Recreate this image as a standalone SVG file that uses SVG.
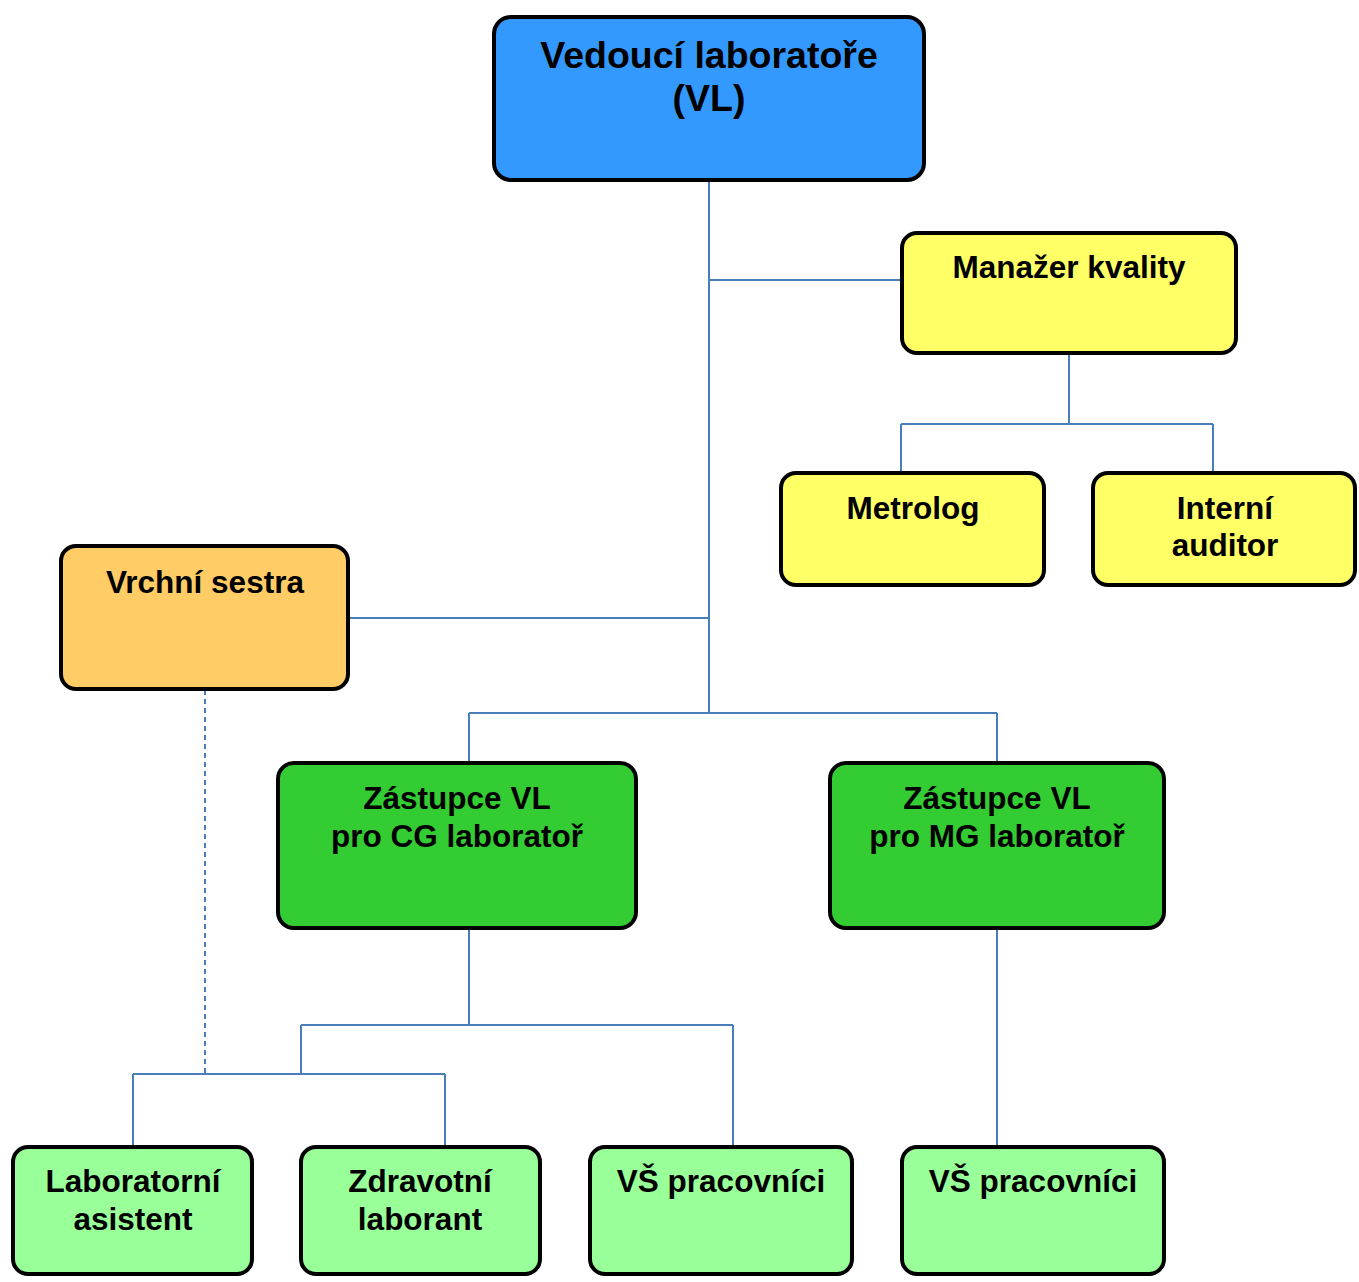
<svg xmlns="http://www.w3.org/2000/svg" width="1359" height="1282" viewBox="0 0 1359 1282">
<style>
.box{stroke:#000;stroke-width:4}
.t{font-family:"Liberation Sans",Arial,sans-serif;font-weight:bold;font-size:31.5px;text-anchor:middle;fill:#000}
.big{font-size:37.5px}
.c{fill:none;stroke:#4A7EBB;stroke-width:2}
.d{stroke-dasharray:5,4}
</style>
<rect width="1359" height="1282" fill="#fff"/>
<g id="connectors">
<path class="c" d="M709,181V713M709,280H901M1069,354V424M901,424H1213M901,424V472M1213,424V472M349,618H709M469,713H997M469,713V762M997,713V762M469,929V1025M301,1025H733M301,1025V1074M733,1025V1146M133,1074H445M133,1074V1146M445,1074V1146M997,929V1146"/>
<path class="c d" d="M205,690V1074"/>
</g>
<g id="vl"><rect class="box" x="494" y="17" width="430" height="163" rx="17" fill="#3399FF"/><text class="t big" x="709" y="68">Vedoucí laboratoře</text><text class="t big" x="709" y="111">(VL)</text></g>
<g id="manazer"><rect class="box" x="902" y="233" width="334" height="120" rx="15" fill="#FFFF66"/><text class="t" x="1069" y="278">Manažer kvality</text></g>
<g id="metrolog"><rect class="box" x="781" y="473" width="263" height="112" rx="15" fill="#FFFF66"/><text class="t" x="913" y="519">Metrolog</text></g>
<g id="auditor"><rect class="box" x="1093" y="473" width="262" height="112" rx="15" fill="#FFFF66"/><text class="t" x="1225" y="519">Interní</text><text class="t" x="1225" y="556">auditor</text></g>
<g id="sestra"><rect class="box" x="61" y="546" width="287" height="143" rx="15" fill="#FFCC66"/><text class="t" x="205" y="593">Vrchní sestra</text></g>
<g id="zastupce-cg"><rect class="box" x="278" y="763" width="358" height="165" rx="16" fill="#33CC33"/><text class="t" x="457" y="809">Zástupce VL</text><text class="t" x="457" y="847">pro CG laboratoř</text></g>
<g id="zastupce-mg"><rect class="box" x="830" y="763" width="334" height="165" rx="16" fill="#33CC33"/><text class="t" x="997" y="809">Zástupce VL</text><text class="t" x="997" y="847">pro MG laboratoř</text></g>
<g id="asistent"><rect class="box" x="13" y="1147" width="239" height="127" rx="15" fill="#99FF99"/><text class="t" x="133" y="1192">Laboratorní</text><text class="t" x="133" y="1230">asistent</text></g>
<g id="laborant"><rect class="box" x="301" y="1147" width="239" height="127" rx="15" fill="#99FF99"/><text class="t" x="420" y="1192">Zdravotní</text><text class="t" x="420" y="1230">laborant</text></g>
<g id="vs-cg"><rect class="box" x="590" y="1147" width="262" height="127" rx="15" fill="#99FF99"/><text class="t" x="721" y="1192">VŠ pracovníci</text></g>
<g id="vs-mg"><rect class="box" x="902" y="1147" width="262" height="127" rx="15" fill="#99FF99"/><text class="t" x="1033" y="1192">VŠ pracovníci</text></g>
</svg>
